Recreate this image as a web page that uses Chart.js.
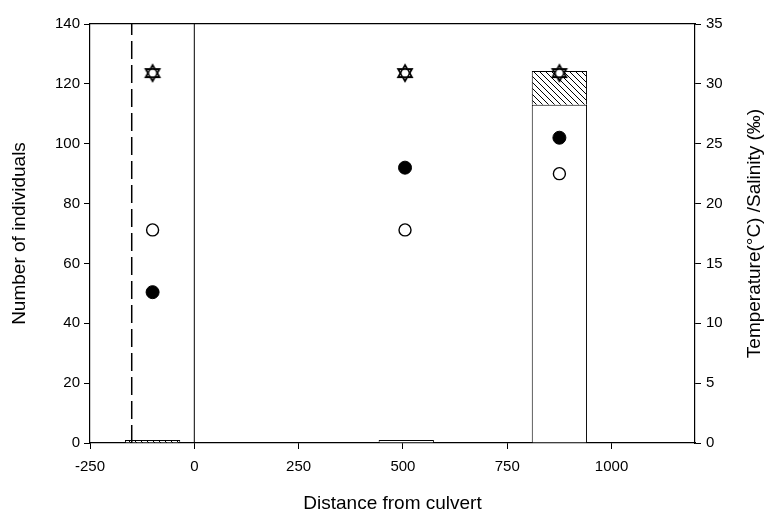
<!DOCTYPE html>
<html lang="en">
  <head>
    <meta charset="UTF-8" />
    <title>Number of individuals vs distance from culvert</title>
    <script src="https://cdn.jsdelivr.net/npm/chart.js"></script>
    <style>
      html, body { margin: 0; padding: 0; background: #fff; }
      #wrap { width: 767px; height: 517px; }
    </style>
  </head>
  <body>
    <div id="wrap"><canvas id="chart" width="767" height="517"></canvas></div>
    <script>
      // Sampling sites (distance from culvert, m)
      const barSites = [-100, 508, 875];
      const openCounts = [0, 1, 113];
      const hatchedCounts = [1, 0, 11.3];

      // Water measurements at each site (right axis)
      const measureSites = [-100, 505, 875];
      const starValues = [30.9, 30.9, 30.9];
      const temperature = [12.6, 23.0, 25.5];
      const salinity = [17.8, 17.8, 22.5];

      // Reference lines
      const culvertX = 0;
      const dashedX = -150;

      const xTicks = [-250, 0, 250, 500, 750, 1000];
      const leftTicks = [0, 20, 40, 60, 80, 100, 120, 140];
      const rightTicks = [0, 5, 10, 15, 20, 25, 30, 35];

      const rightTitle = "Temperature(°C) /Salinity (‰)";

      // diagonal hatch fill
      function makeHatch() {
        const c = document.createElement("canvas");
        c.width = 6;
        c.height = 6;
        const g = c.getContext("2d");
        g.fillStyle = "#fff";
        g.fillRect(0, 0, 6, 6);
        g.strokeStyle = "#000";
        g.lineWidth = 1;
        g.beginPath();
        g.moveTo(0, 0); g.lineTo(6, 6);
        g.moveTo(-3, 3); g.lineTo(3, 9);
        g.moveTo(3, -3); g.lineTo(9, 3);
        g.stroke();
        return g.createPattern(c, "repeat");
      }

      // open hexagram marker
      function makeHexagram() {
        const s = 20;
        const c = document.createElement("canvas");
        c.width = s;
        c.height = s;
        const g = c.getContext("2d");
        const r = 8, cx = s / 2, cy = s / 2;
        g.lineWidth = 1.8;
        g.strokeStyle = "#000";
        g.fillStyle = "#fff";
        for (const rot of [-Math.PI / 2, Math.PI / 2]) {
          g.beginPath();
          for (let i = 0; i < 3; i++) {
            const a = rot + (i * 2 * Math.PI) / 3;
            const px = cx + r * Math.cos(a), py = cy + r * Math.sin(a);
            if (i === 0) g.moveTo(px, py); else g.lineTo(px, py);
          }
          g.closePath();
          g.stroke();
        }
        // open centre
        g.beginPath();
        g.arc(cx, cy, r * 0.42, 0, Math.PI * 2);
        g.fill();
        return c;
      }

      const family = "'Liberation Sans', Arial, sans-serif";
      const tickFont = { family, size: 15 };
      const titleFont = { family, size: 19 };
      const axisColor = "#000";

      // right-hand title reads bottom to top like the left one
      const rightTitlePlugin = {
        id: "rightTitle",
        afterDraw(chart) {
          const ctx = chart.ctx;
          const area = chart.chartArea;
          ctx.save();
          ctx.translate(755, (area.top + area.bottom) / 2);
          ctx.rotate(-Math.PI / 2);
          ctx.font = `${titleFont.size}px ${family}`;
          ctx.fillStyle = "#000";
          ctx.textAlign = "center";
          ctx.textBaseline = "middle";
          ctx.fillText(rightTitle, 0, 0);
          ctx.restore();
        },
      };

      new Chart(document.getElementById("chart"), {
        type: "bar",
        plugins: [rightTitlePlugin],
        data: {
          datasets: [
            {
              label: "open",
              data: barSites.map((x, i) => ({ x, y: openCounts[i] })),
              backgroundColor: "#fff",
              borderColor: "#000",
              borderWidth: 1,
              yAxisID: "y",
              order: 5,
            },
            {
              label: "hatched",
              data: barSites.map((x, i) => ({ x, y: hatchedCounts[i] })),
              backgroundColor: makeHatch(),
              borderColor: "#000",
              borderWidth: 1,
              yAxisID: "y",
              order: 5,
            },
            {
              type: "line",
              label: "culvert",
              data: [{ x: culvertX, y: 0 }, { x: culvertX, y: 140 }],
              borderColor: "#000",
              borderWidth: 1,
              pointRadius: 0,
              yAxisID: "y",
              order: 4,
            },
            {
              type: "line",
              label: "dashed",
              data: [{ x: dashedX, y: 0 }, { x: dashedX, y: 140 }],
              borderColor: "#000",
              borderWidth: 1.5,
              borderDash: [18, 6],
              pointRadius: 0,
              yAxisID: "y",
              order: 4,
            },
            {
              type: "line",
              label: "star",
              data: measureSites.map((x, i) => ({ x, y: starValues[i] })),
              showLine: false,
              pointStyle: makeHexagram(),
              yAxisID: "y2",
              order: 1,
            },
            {
              type: "line",
              label: "temperature",
              data: measureSites.map((x, i) => ({ x, y: temperature[i] })),
              showLine: false,
              pointRadius: 6.5,
              pointBackgroundColor: "#000",
              pointBorderColor: "#000",
              yAxisID: "y2",
              order: 1,
            },
            {
              type: "line",
              label: "salinity",
              data: measureSites.map((x, i) => ({ x, y: salinity[i] })),
              showLine: false,
              pointRadius: 6,
              pointBackgroundColor: "#fff",
              pointBorderColor: "#000",
              pointBorderWidth: 1.4,
              yAxisID: "y2",
              order: 1,
            },
          ],
        },
        options: {
          responsive: false,
          animation: false,
          barPercentage: 1,
          categoryPercentage: 0.53,
          layout: { padding: { top: 16, left: 0, right: 0, bottom: 0 } },
          plugins: { legend: { display: false }, tooltip: { enabled: false } },
          scales: {
            x: {
              type: "linear",
              stacked: true,
              offset: false,
              min: -250,
              max: 1200,
              afterBuildTicks: (s) => { s.ticks = xTicks.map((v) => ({ value: v })); },
              afterFit: (s) => { s.height = 74; },
              grid: { drawOnChartArea: false, offset: false, tickLength: 6, color: axisColor },
              border: { color: axisColor, width: 1.2 },
              ticks: { color: "#000", font: tickFont, padding: 9, callback: (v) => String(v) },
              title: { display: true, text: "Distance from culvert", color: "#000", font: titleFont, padding: { top: 8, bottom: 2 } },
            },
            xTop: {
              type: "linear",
              position: "top",
              min: -250,
              max: 1200,
              grid: { display: false },
              border: { display: true, color: axisColor, width: 1.2 },
              ticks: { display: false },
            },
            y: {
              position: "left",
              stacked: true,
              min: 0,
              max: 140,
              afterBuildTicks: (s) => { s.ticks = leftTicks.map((v) => ({ value: v })); },
              afterFit: (s) => { s.width = 90; },
              grid: { drawOnChartArea: false, tickLength: 6, color: axisColor },
              border: { color: axisColor, width: 1.2 },
              ticks: { color: "#000", font: tickFont, padding: 4 },
              title: { display: true, text: "Number of individuals", color: "#000", font: titleFont, padding: { top: 8, bottom: 0 } },
            },
            y2: {
              position: "right",
              min: 0,
              max: 35,
              afterBuildTicks: (s) => { s.ticks = rightTicks.map((v) => ({ value: v })); },
              afterFit: (s) => { s.width = 72; },
              grid: { drawOnChartArea: false, tickLength: 6, color: axisColor },
              border: { color: axisColor, width: 1.2 },
              ticks: { color: "#000", font: tickFont, padding: 5 },
            },
          },
        },
      });
    </script>
  </body>
</html>
